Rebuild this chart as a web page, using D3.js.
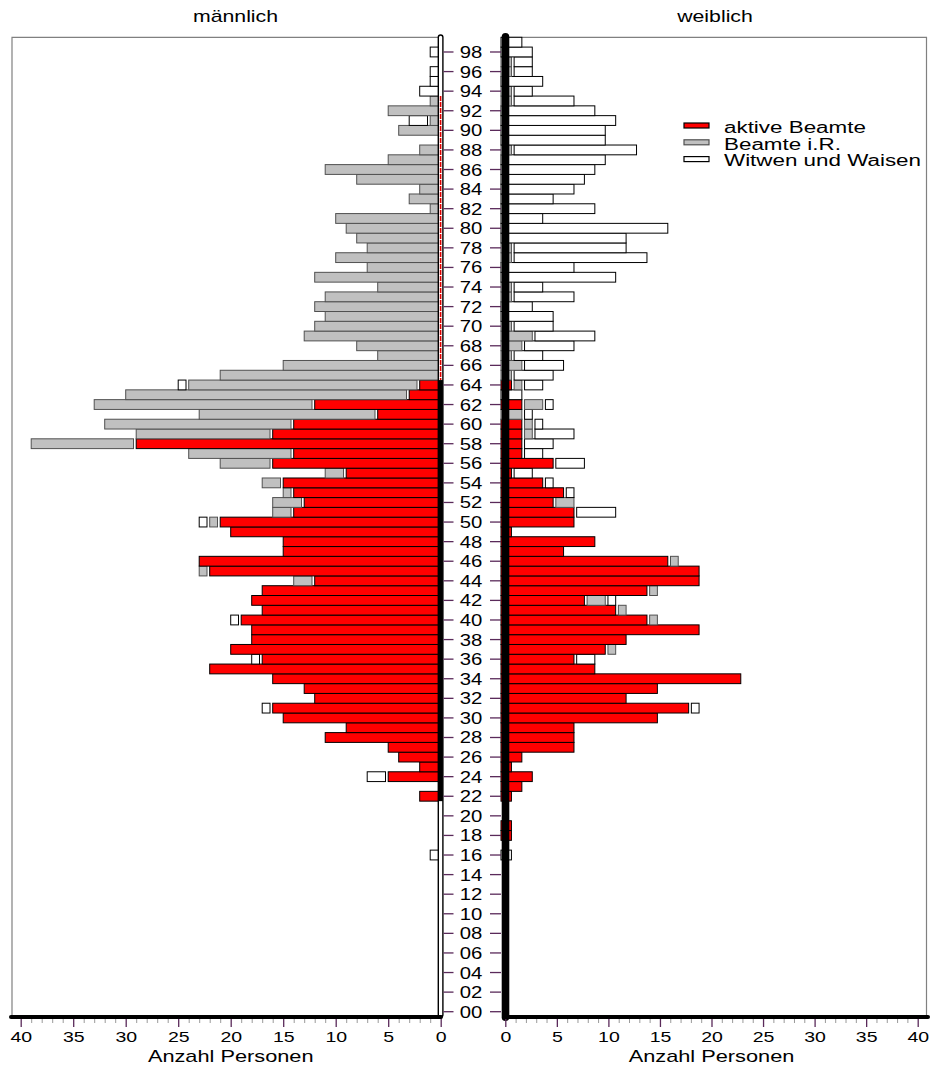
<!DOCTYPE html>
<html>
<head>
<meta charset="utf-8">
<script src="https://cdn.jsdelivr.net/npm/d3@7"></script>
<style>
body { margin: 0; background: #fff; }
text { font-family: "Liberation Sans", Arial, sans-serif; fill: #000; }
</style>
</head>
<body>
<svg width="930" height="1068"></svg>
<script>
// age 0..99, one value per age (Anzahl Personen)
var ages = d3.range(0, 100);

var maleAktiv = [
  0,0,0,0,0,0,0,0,0,0,
  0,0,0,0,0,0,0,0,0,0,
  0,0,2,0,5,2,4,5,11,9,
  15,16,12,13,16,22,17,20,18,18,
  19,17,18,17,12,22,23,15,15,20,
  21,14,13,14,15,9,16,14,29,16,
  14,6,12,3,2,0,0,0,0,0,
  0,0,0,0,0,0,0,0,0,0,
  0,0,0,0,0,0,0,0,0,0,
  0,0,0,0,0,0,0,0,0,0];
var maleRuhe = [
  0,0,0,0,0,0,0,0,0,0,
  0,0,0,0,0,0,0,0,0,0,
  0,0,0,0,0,0,0,0,0,0,
  0,0,0,0,0,0,0,0,0,0,
  0,0,0,0,2,1,0,0,0,0,
  1,2,3,1,2,2,5,10,10,13,
  18,17,21,27,22,21,15,6,8,13,
  12,11,12,11,6,12,7,10,7,8,
  9,10,1,3,2,8,11,5,2,0,
  4,1,5,1,0,0,0,0,0,0];
var maleWitwen = [
  0,0,0,0,0,0,0,0,0,0,
  0,0,0,0,0,0,1,0,0,0,
  0,0,0,0,2,0,0,0,0,0,
  0,1,0,0,0,0,1,0,0,0,
  1,0,0,0,0,0,0,0,0,0,
  1,0,0,0,0,0,0,0,0,0,
  0,0,0,0,1,0,0,0,0,0,
  0,0,0,0,0,0,0,0,0,0,
  0,0,0,0,0,0,0,0,0,0,
  0,2,0,0,2,1,1,0,1,0];

var femaleAktiv = [
  0,0,0,0,0,0,0,0,0,0,
  0,0,0,0,0,0,0,0,1,1,
  0,0,1,2,3,1,2,7,7,7,
  15,18,12,15,23,9,7,10,12,19,
  14,11,8,14,19,19,16,6,9,1,
  7,7,5,6,4,1,5,2,2,2,
  2,0,2,0,1,0,0,0,0,0,
  0,0,0,0,0,0,0,0,0,0,
  0,0,0,0,0,0,0,0,0,0,
  0,0,0,0,0,0,0,0,0,0];
var femaleRuhe = [
  0,0,0,0,0,0,0,0,0,0,
  0,0,0,0,0,0,0,0,0,0,
  0,0,0,0,0,0,0,0,0,0,
  0,0,0,0,0,0,0,1,0,0,
  1,1,2,1,0,0,1,0,0,0,
  0,0,2,0,0,0,0,0,0,1,
  1,2,2,0,1,1,2,1,2,3,
  1,0,0,1,1,0,0,1,1,0,
  0,0,0,0,0,0,0,0,1,0,
  0,0,0,1,1,0,1,1,0,0];
var femaleWitwen = [
  0,0,0,0,0,0,0,0,0,0,
  0,0,0,0,0,0,1,0,0,0,
  0,0,0,0,0,0,0,0,0,0,
  0,1,0,0,0,0,2,0,0,0,
  0,0,1,0,0,0,0,0,0,0,
  0,4,0,1,1,2,3,2,3,4,
  1,1,1,2,2,4,4,3,5,6,
  4,5,3,6,3,11,7,13,11,12,
  16,4,9,5,7,8,9,10,12,10,
  10,11,9,6,2,4,2,2,3,2];

var seriesNames = ["aktive Beamte", "Beamte i.R.", "Witwen und Waisen"];
var fills = ["#ff0000", "#c0c0c0", "#ffffff"];
var strokes = ["#000", "#505050", "#000"];
var xTickValues = d3.range(0, 41, 5);
var xMinorValues = d3.range(0, 41).filter(function(v) { return v % 5 != 0; });
var ageLabels = ages.filter(function(a) { return a % 2 == 0; });

var svg = d3.select("svg");
var purple = "#5a2a5a";
var gap = 2.7;

var y = d3.scaleBand().domain(ages).range([1016.6, 37.3]);
var xL = d3.scaleLinear().domain([0, 40]).range([440.7, 20.7]);
var xR = d3.scaleLinear().domain([0, 40]).range([501, 918]);
var xRaxis = d3.scaleLinear().domain([0, 40]).range([505.3, 917.7]);

function stackRows(akt, ruhe, witwen) {
  var rows = [];
  ages.forEach(function(a) {
    var vals = [akt[a], ruhe[a], witwen[a]], c = 0;
    vals.forEach(function(v, i) {
      if (v > 0) rows.push({age: a, s: i, v0: c, v1: c + v});
      c += v;
    });
  });
  return rows;
}

// panel frames
svg.append("path")
  .attr("d", "M12,1017V37.3H438")
  .attr("fill", "none").attr("stroke", "#808080").attr("stroke-width", 1.2);
svg.append("path")
  .attr("d", "M509,37.3H926.5V1017")
  .attr("fill", "none").attr("stroke", "#808080").attr("stroke-width", 1.2);

// male bars (left)
svg.append("g").selectAll("rect")
  .data(stackRows(maleAktiv, maleRuhe, maleWitwen))
  .enter().append("rect")
    .attr("x", function(d) { return xL(d.v1); })
    .attr("y", function(d) { return y(d.age); })
    .attr("width", function(d) { return xL(d.v0) - (d.v0 > 0 ? gap : 0) - xL(d.v1); })
    .attr("height", y.bandwidth())
    .attr("fill", function(d) { return fills[d.s]; })
    .attr("stroke", function(d) { return strokes[d.s]; })
    .attr("stroke-width", 1);

// female bars (right)
svg.append("g").selectAll("rect")
  .data(stackRows(femaleAktiv, femaleRuhe, femaleWitwen))
  .enter().append("rect")
    .attr("x", function(d) { return xR(d.v0) + (d.v0 > 0 ? gap : 0); })
    .attr("y", function(d) { return y(d.age); })
    .attr("width", function(d) { return xR(d.v1) - xR(d.v0) - (d.v0 > 0 ? gap : 0); })
    .attr("height", y.bandwidth())
    .attr("fill", function(d) { return fills[d.s]; })
    .attr("stroke", function(d) { return strokes[d.s]; })
    .attr("stroke-width", 1);

// left centre axis (double line, filled where active bars are)
svg.append("rect")
  .attr("x", 438.3).attr("y", 35).attr("width", 4.6).attr("height", 982)
  .attr("rx", 2.3)
  .attr("fill", "#fff").attr("stroke", "#000").attr("stroke-width", 1.4);
svg.append("line")
  .attr("x1", 440.6).attr("x2", 440.6)
  .attr("y1", y(93)).attr("y2", y(65) + y.bandwidth())
  .attr("stroke", "#e00000").attr("stroke-width", 1.6)
  .attr("stroke-dasharray", "5,1");
svg.append("rect")
  .attr("x", 438.3).attr("width", 4.6)
  .attr("y", y(64)).attr("height", y(22) + y.bandwidth() - y(64))
  .attr("fill", "#000");

// right centre axis (thick)
svg.append("rect")
  .attr("x", 501.7).attr("y", 33).attr("width", 7.6).attr("height", 988)
  .attr("rx", 3.8)
  .attr("fill", "#000");

// age labels and ticks
var ageAxis = svg.append("g");
ageAxis.selectAll("line.l")
  .data(ageLabels).enter().append("line")
    .attr("x1", 443.5).attr("x2", 453.5)
    .attr("y1", function(a) { return y(a) + y.bandwidth() / 2; })
    .attr("y2", function(a) { return y(a) + y.bandwidth() / 2; })
    .attr("stroke", purple).attr("stroke-width", 1.3);
ageAxis.selectAll("line.r")
  .data(ageLabels).enter().append("line")
    .attr("x1", 490).attr("x2", 501)
    .attr("y1", function(a) { return y(a) + y.bandwidth() / 2; })
    .attr("y2", function(a) { return y(a) + y.bandwidth() / 2; })
    .attr("stroke", purple).attr("stroke-width", 1.3);
ageAxis.selectAll("text")
  .data(ageLabels).enter().append("text")
    .attr("transform", function(a) {
      return "translate(471," + (y(a) + y.bandwidth() / 2 + 6) + ") scale(1.27,1)";
    })
    .attr("text-anchor", "middle")
    .style("font-size", "16px")
    .text(function(a) { return d3.format("02d")(a); });

// bottom axes
function drawXAxis(scale, x1, x2) {
  var g = svg.append("g").attr("transform", "translate(0,1017)");
  g.call(d3.axisBottom(scale).tickValues(xMinorValues).tickSize(6).tickFormat(""))
    .call(function(g) { g.select(".domain").remove(); })
    .selectAll("line").attr("stroke", "#9a9a9a").attr("stroke-width", 1);
  var major = svg.append("g").attr("transform", "translate(0,1015)");
  major.call(d3.axisBottom(scale).tickValues(xTickValues).tickSize(12).tickPadding(6))
    .call(function(g) { g.select(".domain").remove(); });
  major.selectAll("line").attr("stroke", purple).attr("stroke-width", 1.3);
  major.selectAll("text")
    .attr("fill", "#000")
    .attr("y", 27).attr("dy", 0)
    .attr("transform", "scale(1.3,1)")
    .style("font-size", "15px")
    .style("font-family", "'Liberation Sans', Arial, sans-serif");
  svg.append("line")
    .attr("x1", x1).attr("x2", x2).attr("y1", 1017).attr("y2", 1017)
    .attr("stroke", "#000").attr("stroke-width", 4).attr("stroke-linecap", "round");
  svg.append("text")
    .attr("transform", "translate(" + ((scale.range()[0] + scale.range()[1]) / 2) + ",1062) scale(1.28,1)")
    .attr("text-anchor", "middle")
    .style("font-size", "17px")
    .text("Anzahl Personen");
}
drawXAxis(xL, 11, 441);
drawXAxis(xRaxis, 504, 928);

// panel titles
svg.append("text")
  .attr("transform", "translate(235.5,22) scale(1.33,1)")
  .attr("text-anchor", "middle").style("font-size", "16px").text("männlich");
svg.append("text")
  .attr("transform", "translate(715,22) scale(1.33,1)")
  .attr("text-anchor", "middle").style("font-size", "16px").text("weiblich");

// legend
var legend = svg.append("g").attr("transform", "translate(684,123)");
var li = legend.selectAll("g").data(seriesNames).enter().append("g")
  .attr("transform", function(d, i) { return "translate(0," + (i * 16.8) + ")"; });
li.append("rect")
  .attr("width", 25).attr("height", 5)
  .attr("fill", function(d, i) { return fills[i]; })
  .attr("stroke", function(d, i) { return strokes[i]; })
  .attr("stroke-width", 1.2);
li.append("text")
  .attr("transform", "translate(40,9.8) scale(1.4,1)")
  .style("font-size", "16px")
  .text(function(d) { return d; });
</script>
</body>
</html>
